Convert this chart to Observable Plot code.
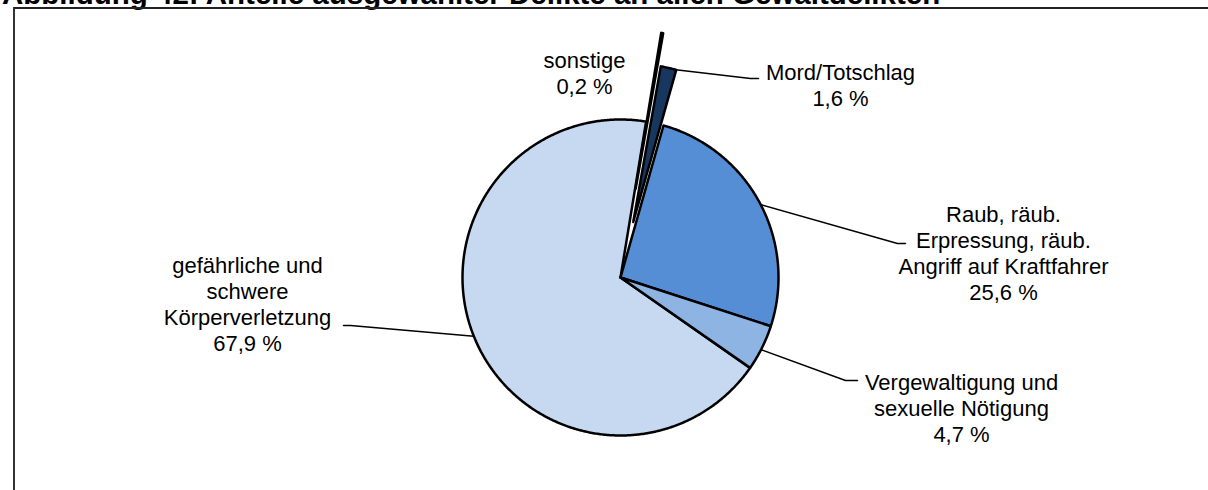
<!DOCTYPE html>
<html><head><meta charset="utf-8">
<script src="https://cdn.jsdelivr.net/npm/d3@7"></script>
<script src="https://cdn.jsdelivr.net/npm/@observablehq/plot@0.6"></script>
<style>
body{margin:0;background:#fff;}
#wrap{position:relative;width:1208px;height:490px;overflow:hidden;font-family:Arial,"Liberation Sans",sans-serif;}
#title{position:absolute;left:2px;top:-21px;font-weight:bold;font-size:29.5px;line-height:30px;white-space:nowrap;color:#000;}
#frame{position:absolute;left:13px;top:7px;width:1300px;height:600px;border-left:2px solid #333;border-top:2px solid #222;}
#chart{position:absolute;left:0;top:0;}
</style></head><body>
<div id="wrap">
<div id="title">Abbildung 42: Anteile ausgewählter Delikte an allen Gewaltdelikten</div>
<div id="frame"></div>
<div id="chart"></div>
</div>
<script>
// ---- data ----
const categories = ["Raub, räub. Erpressung, räub. Angriff auf Kraftfahrer", "Vergewaltigung und sexuelle Nötigung", "gefährliche und schwere Körperverletzung", "sonstige", "Mord/Totschlag"];
const shares = [25.6, 4.7, 67.9, 0.2, 1.6];
const labelLines = [
  ["Raub, räub.", "Erpressung, räub.", "Angriff auf Kraftfahrer"],
  ["Vergewaltigung und", "sexuelle Nötigung"],
  ["gefährliche und", "schwere", "Körperverletzung"],
  ["sonstige"],
  ["Mord/Totschlag"]
];
const valueLabels = ["25,6 %", "4,7 %", "67,9 %", "0,2 %", "1,6 %"];
const colors = ["#558ED5", "#8EB4E3", "#C6D9F1", "#FFFFF2", "#17375E"];

// ---- layout ----
const W = 1208, H = 490, CX = 620, CY = 277, R = 158;
const startDeg = 15.8;
const explode = [0, 0, 0, 90, 57];
const labelPos = [[1003, 252], [961, 407], [247, 303], [584, 72], [840, 84]];
const leaderAngle = [62.5, 117.2, 248.2, null, 15.6];
const leaderElbow = [[[897, 243], [905, 243]], [[845, 380], [857, 380]], [[350, 325], [343, 325]], null, [[750, 78], [758, 78]]];

const rad = d => d * Math.PI / 180;
let a0 = startDeg;
const slicePts = [];
const centers = [];
shares.forEach((v, i) => {
  const span = v / 100 * 360;
  const a1 = a0 + span, mid = (a0 + a1) / 2;
  const ox = CX + explode[i] * Math.sin(rad(mid)), oy = CY - explode[i] * Math.cos(rad(mid));
  centers.push([ox, oy]);
  slicePts.push({k: i, x: ox, y: oy});
  const n = Math.max(2, Math.ceil(span / 0.5));
  for (let j = 0; j <= n; j++) {
    const a = a0 + span * j / n;
    slicePts.push({k: i, x: ox + R * Math.sin(rad(a)), y: oy - R * Math.cos(rad(a))});
  }
  a0 = a1;
});
const drawOrder = [2, 0, 1, 4, 3];
const orderedPts = drawOrder.flatMap(k => slicePts.filter(p => p.k === k));

const leaderPts = [];
leaderAngle.forEach((a, i) => {
  if (a == null) return;
  const [ox, oy] = centers[i];
  leaderPts.push({k: i, x: ox + R * Math.sin(rad(a)), y: oy - R * Math.cos(rad(a))});
  leaderElbow[i].forEach(([x, y]) => leaderPts.push({k: i, x, y}));
});

const texts = shares.map((v, i) => ({
  x: labelPos[i][0], y: labelPos[i][1],
  text: [...labelLines[i], valueLabels[i]].join("\n")
}));

const chart = Plot.plot({
  width: W, height: H, margin: 0,
  x: {domain: [0, W], range: [0, W], axis: null},
  y: {domain: [0, H], range: [0, H], axis: null},
  color: {type: "ordinal", domain: d3.range(colors.length), range: colors},
  style: {background: "transparent", fontFamily: "Arial, 'Liberation Sans', sans-serif"},
  marks: [
    Plot.line(leaderPts, {x: "x", y: "y", z: "k", stroke: "#000", strokeWidth: 1.5}),
    Plot.line(orderedPts, {x: "x", y: "y", z: "k", fill: "k", stroke: "#000", strokeWidth: 2.5, curve: "linear-closed", strokeLinejoin: "round"}),
    Plot.text(texts, {x: "x", y: "y", text: "text", fontSize: 22, lineHeight: 1.18, lineAnchor: "middle", textAnchor: "middle", fill: "#000"})
  ]
});
document.getElementById("chart").appendChild(chart);
</script>
</body></html>
